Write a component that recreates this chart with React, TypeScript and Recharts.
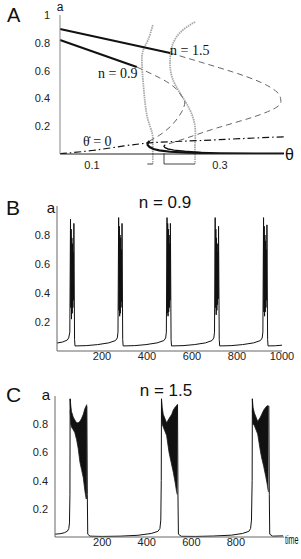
import React from 'react';
import { LineChart, ComposedChart, Line, Area, XAxis, YAxis, ReferenceLine } from 'recharts';

const SANS = '"Liberation Sans", Arial, sans-serif';
const SERIF = '"Liberation Serif", "Times New Roman", serif';

// ---------- Panel A : bifurcation diagram ----------
const thetaTicksA = [0.1, 0.3];
const aTicksA = [0.2, 0.4, 0.6, 0.8];
const topTickLabelA = '1';

const upperBranch15 = [{ t: 0.05, a: 0.9 }, { t: 0.222, a: 0.727 }];
const middleBranch15 = [
  { t: 0.222, a: 0.727 }, { t: 0.269, a: 0.662 }, { t: 0.32, a: 0.59 }, { t: 0.3625, a: 0.518 },
  { t: 0.389, a: 0.446 }, { t: 0.395, a: 0.388 }, { t: 0.389, a: 0.338 }, { t: 0.352, a: 0.266 },
  { t: 0.295, a: 0.187 }, { t: 0.248, a: 0.115 }, { t: 0.214, a: 0.065 },
];
const lowerBranch15 = [
  { t: 0.214, a: 0.065 }, { t: 0.2125, a: 0.055 }, { t: 0.214, a: 0.045 }, { t: 0.219, a: 0.036 },
  { t: 0.228, a: 0.028 }, { t: 0.245, a: 0.02 }, { t: 0.27, a: 0.012 },
];
const upperBranch09 = [{ t: 0.05, a: 0.82 }, { t: 0.17, a: 0.626 }];
const middleBranch09 = [
  { t: 0.17, a: 0.626 }, { t: 0.206, a: 0.547 }, { t: 0.23, a: 0.475 }, { t: 0.242, a: 0.403 },
  { t: 0.245, a: 0.367 }, { t: 0.24, a: 0.302 }, { t: 0.225, a: 0.209 }, { t: 0.206, a: 0.137 },
  { t: 0.19, a: 0.094 },
];
const lowerBranch09 = [
  { t: 0.19, a: 0.094 }, { t: 0.187, a: 0.08 }, { t: 0.187, a: 0.065 }, { t: 0.19, a: 0.05 },
  { t: 0.196, a: 0.036 }, { t: 0.205, a: 0.026 }, { t: 0.222, a: 0.016 }, { t: 0.25, a: 0.01 },
  { t: 0.3, a: 0.005 }, { t: 0.4, a: 0.002 },
];
const thetaNullcline = [
  { t: 0.05, a: 0.002 }, { t: 0.1, a: 0.025 }, { t: 0.15, a: 0.058 }, { t: 0.186, a: 0.078 },
  { t: 0.22, a: 0.088 }, { t: 0.27, a: 0.097 }, { t: 0.33, a: 0.11 }, { t: 0.4, a: 0.124 },
];
const aNullcline1 = [
  { t: 0.195, a: 0.928 }, { t: 0.1875, a: 0.82 }, { t: 0.18, a: 0.748 }, { t: 0.178, a: 0.655 },
  { t: 0.18, a: 0.51 }, { t: 0.183, a: 0.367 }, { t: 0.1875, a: 0.245 }, { t: 0.194, a: 0.151 },
  { t: 0.195, a: 0.079 }, { t: 0.195, a: 0 },
];
const aNullcline2 = [
  { t: 0.261, a: 0.95 }, { t: 0.242, a: 0.892 }, { t: 0.227, a: 0.8 }, { t: 0.222, a: 0.676 },
  { t: 0.225, a: 0.554 }, { t: 0.2375, a: 0.439 }, { t: 0.253, a: 0.317 }, { t: 0.261, a: 0.194 },
  { t: 0.261, a: 0.079 }, { t: 0.261, a: 0 },
];
// continuation of the nullclines below a = 0 (gray) and small brackets (dark)
const belowAxisGray = [
  [{ x: 0.195, y: 0 }, { x: 0.195, y: -0.072 }],
  [{ x: 0.261, y: 0 }, { x: 0.261, y: -0.072 }],
];
const belowAxisDark = [
  [{ x: 0.1865, y: -0.072 }, { x: 0.195, y: -0.072 }],
  [{ x: 0.2125, y: -0.072 }, { x: 0.261, y: -0.072 }],
  [{ x: 0.2125, y: 0.006 }, { x: 0.2125, y: -0.072 }],
];

// ---------- Panel B : time course, n = 0.9 ----------
const timeTicksB = [200, 400, 600, 800, 1000];
const aTicksBC = [0.2, 0.4, 0.6, 0.8];
const traceB = [
  { t: 0, a: 0.055 }, { t: 25, a: 0.062 }, { t: 45, a: 0.075 }, { t: 52, a: 0.09 }, { t: 57, a: 0.13 },
  { t: 60, a: 0.91 }, { t: 61.5, a: 0.3 }, { t: 63, a: 0.84 }, { t: 64.5, a: 0.22 }, { t: 66, a: 0.78 },
  { t: 67.5, a: 0.26 }, { t: 69, a: 0.74 }, { t: 70.5, a: 0.3 }, { t: 72, a: 0.68 }, { t: 73.5, a: 0.35 },
  { t: 75, a: 0.88 }, { t: 78, a: 0.08 }, { t: 80, a: 0.035 }, { t: 130, a: 0.037 }, { t: 180, a: 0.044 },
  { t: 230, a: 0.056 }, { t: 260, a: 0.072 }, { t: 268, a: 0.09 }, { t: 271, a: 0.13 },
  { t: 274, a: 0.92 }, { t: 275.5, a: 0.28 }, { t: 277, a: 0.86 }, { t: 278.5, a: 0.24 }, { t: 280, a: 0.8 },
  { t: 281.5, a: 0.26 }, { t: 283, a: 0.78 }, { t: 284.5, a: 0.3 }, { t: 286, a: 0.7 }, { t: 287.5, a: 0.34 },
  { t: 289, a: 0.88 }, { t: 292, a: 0.08 }, { t: 294, a: 0.035 }, { t: 345, a: 0.037 }, { t: 395, a: 0.044 },
  { t: 445, a: 0.056 }, { t: 475, a: 0.072 }, { t: 483, a: 0.09 }, { t: 486, a: 0.13 },
  { t: 489, a: 0.92 }, { t: 490.5, a: 0.26 }, { t: 492, a: 0.88 }, { t: 493.5, a: 0.24 }, { t: 495, a: 0.84 },
  { t: 496.5, a: 0.27 }, { t: 498, a: 0.8 }, { t: 499.5, a: 0.3 }, { t: 501, a: 0.74 }, { t: 502.5, a: 0.35 },
  { t: 504, a: 0.88 }, { t: 507, a: 0.08 }, { t: 509, a: 0.035 }, { t: 560, a: 0.037 }, { t: 610, a: 0.044 },
  { t: 660, a: 0.056 }, { t: 689, a: 0.072 }, { t: 697, a: 0.09 }, { t: 700, a: 0.13 },
  { t: 703, a: 0.92 }, { t: 704.5, a: 0.3 }, { t: 706, a: 0.84 }, { t: 707.5, a: 0.25 }, { t: 709, a: 0.78 },
  { t: 710.5, a: 0.28 }, { t: 712, a: 0.74 }, { t: 713.5, a: 0.32 }, { t: 715, a: 0.68 }, { t: 716.5, a: 0.36 },
  { t: 718, a: 0.86 }, { t: 721, a: 0.08 }, { t: 723, a: 0.035 }, { t: 774, a: 0.037 }, { t: 824, a: 0.044 },
  { t: 874, a: 0.056 }, { t: 904, a: 0.072 }, { t: 912, a: 0.09 }, { t: 915, a: 0.13 },
  { t: 918, a: 0.92 }, { t: 919.5, a: 0.27 }, { t: 921, a: 0.86 }, { t: 922.5, a: 0.24 }, { t: 924, a: 0.8 },
  { t: 925.5, a: 0.27 }, { t: 927, a: 0.76 }, { t: 928.5, a: 0.3 }, { t: 930, a: 0.7 }, { t: 931.5, a: 0.35 },
  { t: 933, a: 0.87 }, { t: 936, a: 0.08 }, { t: 938, a: 0.035 }, { t: 970, a: 0.036 }, { t: 1000, a: 0.04 },
];

// ---------- Panel C : time course, n = 1.5 ----------
const timeTicksC = [200, 400, 600, 800];
const traceC = [
  { t: -12, a: 0.02 }, { t: 10, a: 0.023 }, { t: 30, a: 0.03 }, { t: 44, a: 0.042 }, { t: 50, a: 0.06 },
  { t: 53, a: 0.1 }, { t: 55, a: 0.3 }, { t: 56, a: 0.98 }, { t: 58, a: 0.88 }, { t: 59, a: null },
  { t: 131, a: 0.93 }, { t: 133, a: 0.3 }, { t: 135, a: 0.02 }, { t: 145, a: 0.006 }, { t: 200, a: 0.004 },
  { t: 280, a: 0.006 }, { t: 360, a: 0.012 }, { t: 420, a: 0.025 }, { t: 450, a: 0.04 }, { t: 459, a: 0.06 },
  { t: 463, a: 0.12 }, { t: 465, a: 0.4 }, { t: 466, a: 0.98 }, { t: 468, a: 0.87 }, { t: 469, a: null },
  { t: 538, a: 0.94 }, { t: 540, a: 0.3 }, { t: 542, a: 0.02 }, { t: 555, a: 0.005 }, { t: 620, a: 0.004 },
  { t: 700, a: 0.007 }, { t: 780, a: 0.013 }, { t: 830, a: 0.025 }, { t: 858, a: 0.04 }, { t: 866, a: 0.06 },
  { t: 870, a: 0.12 }, { t: 873, a: 0.4 }, { t: 874, a: 0.98 }, { t: 876, a: 0.87 }, { t: 877, a: null },
  { t: 948, a: 0.93 }, { t: 950, a: 0.3 }, { t: 952, a: 0.02 }, { t: 965, a: 0.006 }, { t: 1012, a: 0.008 },
];
// envelope [low, high] of the fast oscillations during each burst
const bandC = [
  { t: 56, r: [0.9, 0.98] }, { t: 59, r: [0.8, 0.93] }, { t: 62, r: [0.78, 0.89] }, { t: 70, r: [0.76, 0.85] },
  { t: 77, r: [0.74, 0.83] }, { t: 85, r: [0.69, 0.81] }, { t: 92, r: [0.63, 0.81] }, { t: 100, r: [0.53, 0.82] },
  { t: 107, r: [0.48, 0.84] }, { t: 115, r: [0.42, 0.87] }, { t: 122, r: [0.33, 0.91] }, { t: 128, r: [0.27, 0.93] },
  { t: 131, r: [0.28, 0.94] }, { t: 132, r: null },
  { t: 466, r: [0.9, 0.98] }, { t: 469, r: [0.8, 0.92] }, { t: 474, r: [0.78, 0.87] }, { t: 489, r: [0.72, 0.81] },
  { t: 500, r: [0.6, 0.84] }, { t: 512, r: [0.51, 0.87] }, { t: 519, r: [0.46, 0.9] }, { t: 527, r: [0.39, 0.92] },
  { t: 533, r: [0.33, 0.93] }, { t: 537, r: [0.3, 0.94] }, { t: 539, r: null },
  { t: 874, r: [0.9, 0.98] }, { t: 877, r: [0.8, 0.92] }, { t: 883, r: [0.79, 0.88] }, { t: 898, r: [0.73, 0.82] },
  { t: 910, r: [0.61, 0.85] }, { t: 916, r: [0.56, 0.87] }, { t: 925, r: [0.5, 0.9] }, { t: 934, r: [0.43, 0.92] },
  { t: 940, r: [0.38, 0.93] }, { t: 946, r: [0.32, 0.93] },
];

const tickStyle = { fontSize: 11, fill: '#222', fontFamily: SANS };

export default function App() {
  return (
    <div style={{ position: 'absolute', left: 0, top: 0, width: 301, height: 559, background: '#fff', overflow: 'hidden' }}>
      {/* Panel A */}
      <div style={{ position: 'absolute', left: 0, top: 0 }}>
        <LineChart width={301} height={190} margin={{ top: 15, right: 17, bottom: 0, left: 0 }}>
          <XAxis type="number" dataKey="t" domain={[0.05, 0.4]} ticks={thetaTicksA} interval={0} height={36}
            tickSize={0} tickMargin={7} stroke="#222" tick={tickStyle} />
          <YAxis type="number" dataKey="a" domain={[0, 1]} allowDataOverflow ticks={aTicksA} interval={0} width={60}
            tickSize={0} tickMargin={10} stroke="#888" tick={tickStyle} />
          <Line data={aNullcline1} dataKey="a" type="natural" stroke="#a8a8a8" strokeWidth={1.8} strokeDasharray="1.5 0.8" dot={false} isAnimationActive={false} />
          <Line data={aNullcline2} dataKey="a" type="natural" stroke="#a8a8a8" strokeWidth={1.8} strokeDasharray="1.5 0.8" dot={false} isAnimationActive={false} />
          {belowAxisGray.map((s, i) => (
            <ReferenceLine key={'g' + i} segment={s} ifOverflow="visible" stroke="#a8a8a8" strokeWidth={1.6} strokeDasharray="1.5 0.8" />
          ))}
          {belowAxisDark.map((s, i) => (
            <ReferenceLine key={'d' + i} segment={s} ifOverflow="visible" stroke="#444" strokeWidth={1} />
          ))}
          <Line data={thetaNullcline} dataKey="a" type="natural" stroke="#111" strokeWidth={1.2} strokeDasharray="7 3 1.5 3" dot={false} isAnimationActive={false} />
          <Line data={middleBranch15} dataKey="a" type="natural" stroke="#666" strokeWidth={1} strokeDasharray="6 4" dot={false} isAnimationActive={false} />
          <Line data={middleBranch09} dataKey="a" type="natural" stroke="#666" strokeWidth={1} strokeDasharray="6 4" dot={false} isAnimationActive={false} />
          <Line data={upperBranch15} dataKey="a" type="linear" stroke="#111" strokeWidth={2} dot={false} isAnimationActive={false} />
          <Line data={upperBranch09} dataKey="a" type="linear" stroke="#111" strokeWidth={2} dot={false} isAnimationActive={false} />
          <Line data={lowerBranch09} dataKey="a" type="linear" stroke="#111" strokeWidth={2.2} dot={false} isAnimationActive={false} />
          <Line data={lowerBranch15} dataKey="a" type="linear" stroke="#111" strokeWidth={1.4} dot={false} isAnimationActive={false} />
        </LineChart>
      </div>

      {/* Panel B */}
      <div style={{ position: 'absolute', left: 0, top: 190 }}>
        <LineChart width={301} height={185} margin={{ top: 16, right: 19, bottom: 0, left: 0 }}>
          <XAxis type="number" dataKey="t" domain={[0, 1000]} ticks={timeTicksB} interval={0} height={24}
            tickSize={0} tickMargin={1} stroke="#666" tick={tickStyle} />
          <YAxis type="number" dataKey="a" domain={[0, 1]} ticks={aTicksBC} interval={0} width={57}
            tickSize={0} tickMargin={7} stroke="#666" tick={tickStyle} />
          <Line data={traceB} dataKey="a" type="linear" stroke="#111" strokeWidth={1} dot={false} isAnimationActive={false} />
        </LineChart>
      </div>

      {/* Panel C */}
      <div style={{ position: 'absolute', left: 0, top: 375 }}>
        <ComposedChart width={301} height={184} data={bandC} margin={{ top: 21, right: 17, bottom: 0, left: 0 }}>
          <XAxis type="number" dataKey="t" domain={[-12, 1016]} ticks={timeTicksC} interval={0} height={22}
            tickSize={0} tickMargin={1} stroke="#666" tick={tickStyle} />
          <YAxis type="number" domain={[0, 1]} ticks={aTicksBC} interval={0} width={55}
            tickSize={0} tickMargin={7} stroke="#666" tick={tickStyle} />
          <Area dataKey="r" type="linear" stroke="#1a1a1a" strokeWidth={0.8} fill="#111" fillOpacity={1} isAnimationActive={false} />
          <Line data={traceC} dataKey="a" type="linear" stroke="#111" strokeWidth={1} dot={false} isAnimationActive={false} />
        </ComposedChart>
      </div>

      {/* Text overlay */}
      <svg width={301} height={559} style={{ position: 'absolute', left: 0, top: 0, pointerEvents: 'none' }}>
        <text x={7} y={22} fontFamily={SANS} fontSize={20} fill="#111">A</text>
        <text x={60} y={11} fontFamily={SANS} fontSize={12} fill="#111" textAnchor="middle">a</text>
        <text x={50} y={19} fontFamily={SANS} fontSize={11} fill="#222" textAnchor="end">{topTickLabelA}</text>
        <text x={285} y={160} fontFamily={SANS} fontSize={16} fill="#111">θ</text>
        <text x={170} y={55} fontFamily={SERIF} fontSize={14} fill="#111">n = 1.5</text>
        <text x={98} y={78} fontFamily={SERIF} fontSize={14} fill="#111">n = 0.9</text>
        <text x={83} y={146} fontFamily={SERIF} fontSize={14} fill="#111">θ̇ = 0</text>

        <text x={6} y={215} fontFamily={SANS} fontSize={21} fill="#111">B</text>
        <text x={51} y={213} fontFamily={SANS} fontSize={15} fill="#111" textAnchor="middle">a</text>
        <text x={165} y={208} fontFamily={SANS} fontSize={17} fill="#111" textAnchor="middle">n = 0.9</text>

        <text x={6} y={402} fontFamily={SANS} fontSize={21} fill="#111">C</text>
        <text x={46} y={400} fontFamily={SANS} fontSize={15} fill="#111" textAnchor="middle">a</text>
        <text x={166} y={396} fontFamily={SANS} fontSize={17} fill="#111" textAnchor="middle">n = 1.5</text>
        <text transform="translate(285,544) scale(0.55,1)" fontFamily={SANS} fontSize={13} fill="#111">time</text>
      </svg>
    </div>
  );
}
